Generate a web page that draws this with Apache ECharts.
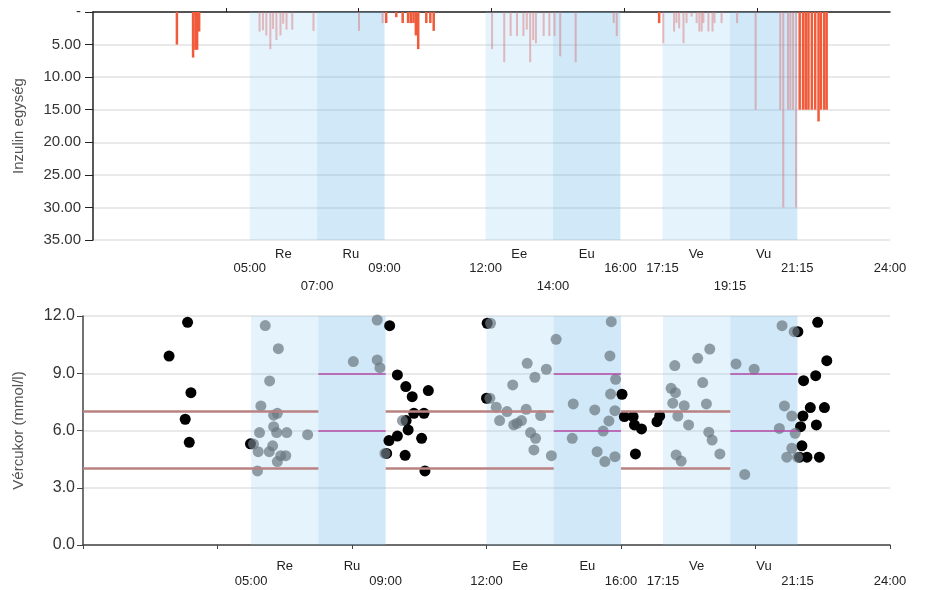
<!DOCTYPE html>
<html>
<head>
<meta charset="utf-8">
<script src="https://cdn.jsdelivr.net/npm/echarts@6/dist/echarts.min.js"></script>
<style>
  html, body { margin: 0; padding: 0; background: #fff; }
  #chart { width: 930px; height: 590px; }
</style>
</head>
<body>
<div id="chart"></div>
<script>
// meal periods (hours)
const meals = ['Re', 'Ru', 'Ee', 'Eu', 'Ve', 'Vu'];
const mealStart = [5, 7, 12, 14, 17.25, 19.25];
const mealEnd = [7, 9, 14, 16, 19.25, 21.25];

// time tick labels (hours)
const timeRow1 = [5, 9, 12, 16, 17.25, 21.25, 24];
const timeRow2 = [7, 14, 19.25];

// insulin doses [hour, units] - outside / inside meal periods
const insulinOut = [
    [2.84, 5.0], [3.32, 7.0], [3.39, 5.8], [3.44, 5.8], [3.5, 3.0],
    [9.05, 1.7], [9.35, 0.8], [9.54, 1.7], [9.7, 1.7], [9.78, 1.7], [9.86, 1.7], [9.93, 3.6],
    [10.0, 5.7], [10.24, 1.7], [10.36, 1.7], [10.46, 2.9],
    [17.15, 1.7],
    [21.32, 15], [21.42, 15], [21.5, 15], [21.58, 15], [21.68, 15], [21.78, 15], [21.88, 16.8],
    [21.95, 15], [22.05, 15], [22.12, 15]
];
const insulinIn = [
    [5.3, 3.0], [5.4, 2.8], [5.5, 3.6], [5.62, 5.7], [5.7, 2.6], [5.8, 4.3], [5.92, 3.6], [6.0, 1.8],
    [6.1, 2.7], [6.27, 2.7], [6.9, 2.9],
    [8.25, 2.9], [8.95, 1.7],
    [12.2, 5.7], [12.56, 7.7], [12.75, 3.7], [12.94, 3.7], [13.13, 3.7], [13.23, 2.7], [13.33, 7.7],
    [13.42, 4.3], [13.5, 4.8], [13.73, 3.7], [13.9, 3.7], [14.05, 3.7], [14.22, 6.8], [14.68, 7.7],
    [15.81, 1.7], [15.9, 3.7],
    [17.28, 4.8], [17.6, 3.0], [17.67, 1.7], [17.75, 2.5], [17.88, 4.8], [17.97, 1.7], [18.12, 0.7],
    [18.27, 1.7], [18.35, 3.0], [18.42, 3.0], [18.47, 1.7], [18.62, 3.0], [18.74, 3.0], [18.8, 1.7],
    [19.01, 1.7], [19.47, 1.7],
    [20.02, 15], [20.75, 15], [20.84, 30], [20.98, 15], [21.05, 15], [21.13, 15], [21.22, 30]
];

// blood glucose [hour, mmol/l]
const glucoseOut = [
    [2.56, 9.9], [3.11, 11.67], [3.21, 7.98], [3.04, 6.59], [3.16, 5.38], [4.98, 5.3],
    [9.12, 11.49], [9.35, 8.91], [9.6, 8.3], [9.79, 7.77], [10.27, 8.09], [9.84, 6.9], [10.14, 6.9],
    [9.61, 6.52], [9.67, 6.03], [9.35, 5.71], [9.1, 5.47], [10.07, 5.59], [9.03, 4.8], [9.58, 4.7],
    [10.17, 3.88],
    [12.02, 11.62], [12.0, 7.69],
    [16.03, 7.9], [16.1, 6.73], [16.36, 6.73], [16.4, 6.29], [16.61, 6.08], [16.43, 4.77],
    [17.07, 6.46], [17.15, 6.76],
    [21.26, 11.18], [21.85, 11.67], [22.12, 9.66], [21.43, 8.61], [21.79, 8.87], [21.63, 7.2],
    [22.05, 7.2], [21.41, 6.76], [21.81, 6.29], [21.34, 6.2], [21.38, 5.2], [21.53, 4.6],
    [21.9, 4.6], [21.31, 4.6]
];
const glucoseIn = [
    [5.42, 11.5], [5.81, 10.29], [5.55, 8.6], [5.29, 7.29], [5.67, 6.8], [5.78, 6.9], [5.67, 6.2],
    [5.25, 5.89], [5.76, 5.89], [6.06, 5.89], [6.68, 5.78], [5.07, 5.29], [5.21, 4.89], [5.54, 4.89],
    [5.64, 5.2], [5.88, 4.68], [6.03, 4.68], [5.78, 4.37], [5.19, 3.88],
    [8.04, 9.61], [8.75, 9.7], [8.83, 9.29], [8.75, 11.79], [8.98, 4.8],
    [9.5, 6.52],
    [12.12, 11.62], [12.1, 7.69], [12.29, 7.22], [12.61, 6.99], [12.39, 6.52], [12.78, 8.39],
    [13.21, 9.52], [13.44, 8.79], [13.78, 9.21], [13.18, 7.11], [13.61, 6.78], [12.81, 6.29],
    [12.91, 6.38], [13.04, 6.52], [13.31, 5.89], [13.46, 5.59], [13.41, 4.98], [13.93, 4.68],
    [14.07, 10.78], [14.58, 7.39], [14.55, 5.59], [15.22, 7.08], [15.71, 11.7], [15.67, 9.91],
    [15.84, 8.68], [15.69, 7.91], [15.82, 7.04], [15.64, 6.5], [15.47, 5.97], [15.29, 4.89],
    [15.52, 4.37], [15.82, 4.63],
    [17.6, 9.4], [18.28, 9.78], [18.64, 10.27], [17.49, 8.21], [17.62, 7.98], [18.43, 8.51],
    [17.54, 7.43], [17.88, 7.3], [18.54, 7.39], [17.69, 6.76], [18.01, 6.29], [18.61, 5.91],
    [18.71, 5.5], [18.94, 4.77], [17.64, 4.72], [17.79, 4.4],
    [19.42, 9.49], [19.96, 9.21], [19.68, 3.7], [20.79, 11.49], [21.15, 11.18], [20.86, 7.29],
    [21.08, 6.76], [20.71, 6.11], [21.18, 5.85], [21.08, 5.07], [20.93, 4.6], [21.25, 4.6]
];

// target ranges
const outerTarget = [4, 7];
const outerRanges = [[0, 7], [9, 14], [16, 19.25]];
const innerTarget = [6, 9];
const innerRanges = [[7, 9], [14, 16], [19.25, 21.25]];

const FONT = 'Liberation Sans';
const hhmm = v => {
    const h = Math.floor(v + 1e-6);
    const m = Math.round((v - h) * 60);
    return String(h).padStart(2, '0') + ':' + String(m).padStart(2, '0');
};
const mealCenters = meals.map((m, i) => (mealStart[i] + mealEnd[i]) / 2);
const mealName = v => {
    const i = mealCenters.findIndex(c => Math.abs(c - v) < 0.01);
    return i >= 0 ? meals[i] : '';
};

const bandAreas = meals.map((m, i) => [
    { xAxis: mealStart[i], itemStyle: { color: i % 2 === 0 ? 'rgba(135,200,240,0.22)' : 'rgba(110,185,230,0.32)' } },
    { xAxis: mealEnd[i] }
]);
const segs = (ranges, levels) => {
    const out = [];
    levels.forEach(l => ranges.forEach(r => out.push([{ coord: [r[0], l] }, { coord: [r[1], l] }])));
    return out;
};

const labelAxis = (grid, min, vals, fmt, margin) => ({
    type: 'value', gridIndex: grid, position: 'bottom', min: min, max: 24,
    axisLine: { show: false }, axisTick: { show: false }, splitLine: { show: false },
    axisLabel: {
        customValues: vals, formatter: fmt, margin: margin,
        fontFamily: FONT, fontSize: 13, color: '#222', showMaxLabel: true, showMinLabel: true
    }
});

const chart = echarts.init(document.getElementById('chart'));
const option = {
    animation: false,
    backgroundColor: '#fff',
    grid: [
        { left: 93, top: 12, right: 40, height: 228 },
        { left: 83, top: 316, right: 40, height: 229 }
    ],
    xAxis: [
        {
            type: 'value', gridIndex: 0, position: 'top', min: 0.35, max: 24,
            axisLine: { lineStyle: { color: '#222', width: 1.5 } },
            axisTick: { customValues: [4.29, 8.23, 12.18, 16.12, 20.06], length: 4, lineStyle: { color: '#222' } },
            axisLabel: { show: false }, splitLine: { show: false }
        },
        labelAxis(0, 0.35, mealCenters, mealName, 8),
        labelAxis(0, 0.35, timeRow1, hhmm, 22),
        labelAxis(0, 0.35, timeRow2, hhmm, 40),
        {
            type: 'value', gridIndex: 1, position: 'bottom', min: 0, max: 24, interval: 4,
            axisLine: { lineStyle: { color: '#444', width: 1.5 } },
            axisTick: { length: 4, lineStyle: { color: '#444' } },
            axisLabel: { show: false }, splitLine: { show: false }
        },
        labelAxis(1, 0, mealCenters, mealName, 15),
        labelAxis(1, 0, timeRow1, hhmm, 30)
    ],
    yAxis: [
        {
            type: 'value', gridIndex: 0, inverse: true, min: 0, max: 35, interval: 5,
            name: 'Inzulin egység', nameLocation: 'middle', nameGap: 67, nameRotate: 90,
            nameTextStyle: { fontFamily: FONT, fontSize: 15, color: '#555' },
            axisLine: { show: true, lineStyle: { color: '#222', width: 1.5 } },
            axisTick: { show: true, length: 8, lineStyle: { color: '#222' } },
            axisLabel: {
                formatter: v => v === 0 ? '-' : v.toFixed(2),
                fontFamily: FONT, fontSize: 15, color: '#333', margin: 12
            },
            splitLine: { lineStyle: { color: '#e2e2e2', width: 1.5 } }
        },
        {
            type: 'value', gridIndex: 1, min: 0, max: 12, interval: 3,
            name: 'Vércukor (mmol/l)', nameLocation: 'middle', nameGap: 57, nameRotate: 90,
            nameTextStyle: { fontFamily: FONT, fontSize: 15, color: '#555' },
            axisLine: { show: true, lineStyle: { color: '#444', width: 1.5 } },
            axisTick: { show: true, length: 6, lineStyle: { color: '#444' } },
            axisLabel: {
                formatter: v => v.toFixed(1),
                fontFamily: FONT, fontSize: 16, color: '#333', margin: 8
            },
            splitLine: { lineStyle: { color: '#e2e2e2', width: 1.5 } }
        }
    ],
    series: [
        {
            type: 'line', xAxisIndex: 0, yAxisIndex: 0, data: [], z: 1, silent: true,
            markArea: { silent: true, data: bandAreas }
        },
        {
            name: 'inzulin', type: 'bar', xAxisIndex: 0, yAxisIndex: 0, z: 3,
            barWidth: 2, barGap: '-100%',
            itemStyle: { color: 'rgba(215,110,110,0.45)' },
            data: insulinIn
        },
        {
            name: 'inzulin2', type: 'bar', xAxisIndex: 0, yAxisIndex: 0, z: 3,
            barWidth: 2.5, barGap: '-100%',
            itemStyle: { color: '#ef5b3b' },
            data: insulinOut
        },
        {
            type: 'line', xAxisIndex: 4, yAxisIndex: 1, data: [], z: 1, silent: true,
            markArea: { silent: true, data: bandAreas }
        },
        {
            type: 'line', xAxisIndex: 4, yAxisIndex: 1, data: [], z: 2, silent: true,
            markLine: {
                silent: true, symbol: 'none', label: { show: false },
                lineStyle: { type: 'solid', color: '#b88282', width: 2.5 },
                data: segs(outerRanges, outerTarget)
            }
        },
        {
            type: 'line', xAxisIndex: 4, yAxisIndex: 1, data: [], z: 2, silent: true,
            markLine: {
                silent: true, symbol: 'none', label: { show: false },
                lineStyle: { type: 'solid', color: '#b84aa8', width: 1.5 },
                data: segs(innerRanges, innerTarget)
            }
        },
        {
            name: 'kint', type: 'scatter', xAxisIndex: 4, yAxisIndex: 1, z: 3,
            symbolSize: 11, itemStyle: { color: '#000', opacity: 1 },
            data: glucoseOut
        },
        {
            name: 'bent', type: 'scatter', xAxisIndex: 4, yAxisIndex: 1, z: 4,
            symbolSize: 11, itemStyle: { color: 'rgba(105,120,128,0.7)', opacity: 1 },
            data: glucoseIn
        }
    ]
};
chart.setOption(option);
</script>
</body>
</html>
